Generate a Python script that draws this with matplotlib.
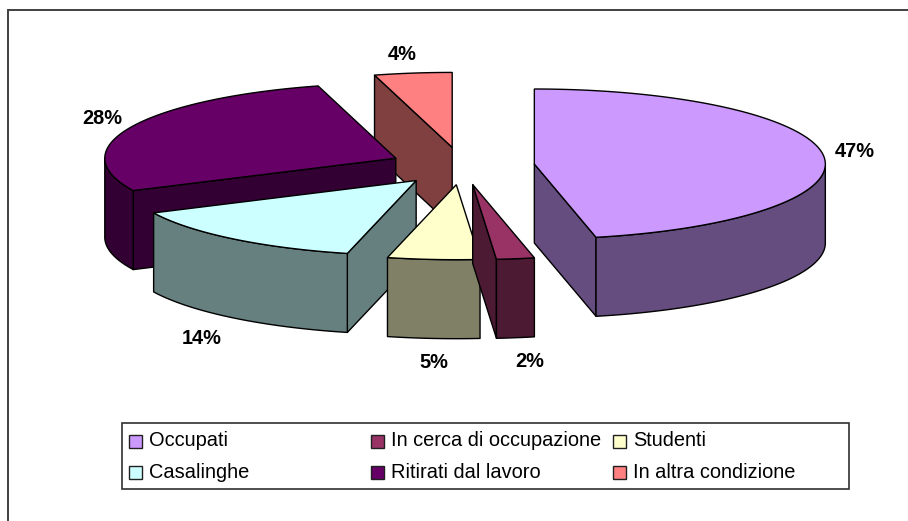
import numpy as np
import matplotlib
matplotlib.use('Agg')
import matplotlib.pyplot as plt
from matplotlib.colors import to_rgb
from matplotlib.patches import Rectangle

categories = ['Occupati', 'In cerca di occupazione', 'Studenti',
              'Casalinghe', 'Ritirati dal lavoro', 'In altra condizione']
shares = [46.6, 2.1, 5.1, 14.1, 27.8, 4.3]
colors = ['#CC99FF', '#993366', '#FFFFCC', '#CCFFFF', '#660066', '#FF8080']

# projected pie geometry, in pixels
CX, CY = 462, 166
A, B = 291, 75
DEPTH = 79
EXPLODE = 0.25
DRAW_ORDER = [5, 4, 3, 2, 1, 0]  # back to front
LABEL_NUDGE = [(-4, -2), (9, 3), (3, 3), (-9, 4), (3, 0), (-6, 2)]

plt.rcParams['font.family'] = ['Liberation Sans', 'DejaVu Sans']

fig = plt.figure(figsize=(9.08, 5.21), dpi=100)
ax = fig.add_axes([0, 0, 1, 1])
ax.set_xlim(0, 908)
ax.set_ylim(521, 0)
ax.axis('off')

# chart area border, only left and top fall inside the picture
ax.add_patch(Rectangle((8, 10), 1000, 1000, fc='white', ec='#404040', lw=1.4))


def rim(apex, a1, a2):
    t = np.radians(np.linspace(a1, a2, max(int(a2 - a1) * 2, 2)))
    return apex[0] + A * np.sin(t), apex[1] - B * np.cos(t)


def side(x, y, color):
    xs = np.concatenate([x, x[::-1]])
    ys = np.concatenate([y, y[::-1] + DEPTH])
    ax.fill(xs, ys, fc=color, ec='black', lw=1, joinstyle='round')


edges = np.concatenate([[0], np.cumsum(shares) / np.sum(shares) * 360])

for i in DRAW_ORDER:
    a1, a2 = edges[i], edges[i + 1]
    mid = np.radians((a1 + a2) / 2)
    apex = (CX + EXPLODE * A * np.sin(mid), CY - EXPLODE * B * np.cos(mid))
    dark = tuple(c * 0.5 for c in to_rgb(colors[i]))

    # radial faces turned to the viewer
    for a in (a1, a2):
        s = np.sin(np.radians(a))
        facing = s < -0.05 if a == a1 else s > 0.05
        if facing:
            ex, ey = rim(apex, a, a + 0.01)
            side(np.array([apex[0], ex[0]]), np.array([apex[1], ey[0]]), dark)

    # outer curved face, front half only
    f1, f2 = max(a1, 90), min(a2, 270)
    if f2 > f1:
        x, y = rim(apex, f1, f2)
        side(x, y, dark)

    # top face
    x, y = rim(apex, a1, a2)
    ax.fill(np.r_[apex[0], x], np.r_[apex[1], y], fc=colors[i], ec='black', lw=1)

    # data label
    lx = apex[0] + 1.12 * A * np.sin(mid) + LABEL_NUDGE[i][0]
    ly = apex[1] - (1.12 * B + 12) * np.cos(mid) + (DEPTH if np.cos(mid) < 0 else 0) + LABEL_NUDGE[i][1]
    ax.text(lx, ly, '%d%%' % round(shares[i]), ha='center', va='center',
            fontsize=14.4, fontweight='bold', color='black')

# legend box
ax.add_patch(Rectangle((122, 423), 727, 66, fc='white', ec='#303030', lw=1.2, zorder=5))
col_x = [129, 371, 613]
row_y = [441, 472]
for i, name in enumerate(categories):
    x0, y0 = col_x[i % 3], row_y[i // 3]
    ax.add_patch(Rectangle((x0, y0 - 6.5), 13, 13, fc=colors[i], ec='#202020', lw=1, zorder=6))
    ax.text(x0 + 20, y0, name, ha='left', va='center', fontsize=14.4, color='black', zorder=6)

fig.savefig('out.png', dpi=100)
